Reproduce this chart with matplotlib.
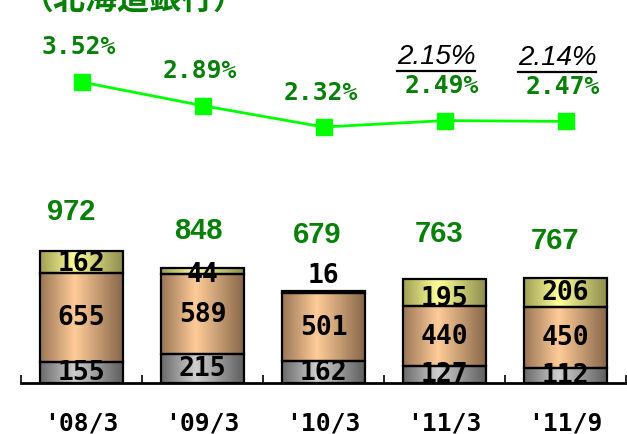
import matplotlib
matplotlib.use('Agg')
import matplotlib.pyplot as plt
import numpy as np
from matplotlib.colors import LinearSegmentedColormap
from matplotlib.lines import Line2D

# ---------------- data ----------------
categories = ["'08/3", "'09/3", "'10/3", "'11/3", "'11/9"]
bottom_vals = [155, 215, 162, 127, 112]
middle_vals = [655, 589, 501, 440, 450]
top_vals = [162, 44, 16, 195, 206]
totals = [972, 848, 679, 763, 767]
ratios = [3.52, 2.89, 2.32, 2.49, 2.47]
ratio_labels = ["3.52%", "2.89%", "2.32%", "2.49%", "2.47%"]
alt_ratio_labels = [None, None, None, "2.15%", "2.14%"]
title = "（北海道銀行）"

# ---------------- layout / style ----------------
W, H, DPI = 627, 435, 100
GREEN_TXT = '#078007'
LINE_GREEN = '#00ff00'
MONO = 'DejaVu Sans Mono'
# label offsets in pixels (dx, dy-up) for total labels
total_offsets = [(-10, 40), (-4, 38), (-6, 57), (-5, 46), (-10, 38)]
top_label_shift = [1.5, 3, 0, 5, 0]  # px downward

fig = plt.figure(figsize=(W / DPI, H / DPI), dpi=DPI)
ax_left, ax_right = 21 / W, 626 / W
base_px = 384
ax = fig.add_axes([ax_left, (H - base_px) / H, ax_right - ax_left, base_px / H])
px_per_unit = 0.1361
ax.set_xlim(-0.5, len(categories) - 0.5)
ax.set_ylim(0, base_px / px_per_unit)

x = np.arange(len(categories))
bw = 0.68

grads = {
    'bottom': ['#6a6a6a', '#cfcfcf', '#5e5e5e'],
    'middle': ['#9a7656', '#ffcc99', '#87674a'],
    'top': ['#9f9f55', '#ffff99', '#8d8d4e'],
}

def grad_bars(vals, bottoms, key):
    bars = ax.bar(x, vals, bw, bottom=bottoms, facecolor='none',
                  edgecolor='black', linewidth=1.6, zorder=3)
    cmap = LinearSegmentedColormap.from_list(key, list(zip([0, 0.42, 1], grads[key])))
    g = np.linspace(0, 1, 256).reshape(1, -1)
    for r in bars:
        x0, y0 = r.get_x(), r.get_y()
        im = ax.imshow(g, cmap=cmap, aspect='auto', interpolation='bilinear',
                       extent=[x0, x0 + r.get_width(), y0, y0 + r.get_height()],
                       zorder=2)
        im.set_clip_path(r)
    return bars

b0 = np.zeros(len(x))
grad_bars(bottom_vals, b0, 'bottom')
b1 = np.array(bottom_vals, dtype=float)
grad_bars(middle_vals, b1, 'middle')
b2 = b1 + np.array(middle_vals)
grad_bars(top_vals, b2, 'top')
ax.set_xlim(-0.5, len(categories) - 0.5)
ax.set_ylim(0, base_px / px_per_unit)

seg_fs = 19
for i in range(len(x)):
    ax.text(x[i], bottom_vals[i] / 2, str(bottom_vals[i]), ha='center', va='center',
            fontsize=seg_fs, family=MONO, fontweight='bold', zorder=4, clip_on=True)
    ax.text(x[i], b1[i] + middle_vals[i] / 2, str(middle_vals[i]), ha='center', va='center',
            fontsize=seg_fs, family=MONO, fontweight='bold', zorder=4, clip_on=True)
    if top_vals[i] >= 40:
        ax.annotate(str(top_vals[i]), (x[i], b2[i] + top_vals[i] / 2),
                    xytext=(0, -top_label_shift[i]), textcoords='offset pixels',
                    ha='center', va='center', fontsize=seg_fs, family=MONO,
                    fontweight='bold', zorder=4)
    else:
        ax.annotate(str(top_vals[i]), (x[i], b2[i] + top_vals[i]),
                    xytext=(0, 16), textcoords='offset pixels',
                    ha='center', va='center', fontsize=seg_fs, family=MONO,
                    fontweight='bold', zorder=4)
    dx, dy = total_offsets[i]
    ax.annotate(str(totals[i]), (x[i], b2[i] + top_vals[i]), xytext=(dx, dy),
                textcoords='offset pixels', ha='center', va='center',
                fontsize=21, family='Liberation Sans', fontweight='bold',
                color=GREEN_TXT, zorder=4)

for s in ['top', 'right', 'left']:
    ax.spines[s].set_visible(False)
ax.spines['bottom'].set_linewidth(2)
ax.spines['bottom'].set_zorder(5)
ax.set_yticks([])
ax.set_xticks(np.arange(-0.5, len(categories)), labels=[''] * (len(categories) + 1))
ax.tick_params(axis='x', which='major', direction='in', length=6, width=1.2)
ax.set_xticks(x, labels=categories, minor=True)
ax.tick_params(axis='x', which='minor', length=0, pad=20)
for lab in ax.get_xticklabels(minor=True):
    lab.set_family(MONO)
    lab.set_fontweight('bold')
    lab.set_fontsize(17.7)
ax.patch.set_visible(False)

# ---------------- line axis ----------------
ax2 = ax.twinx()
lp = 37.5
top_val = 3.52 + 83 / lp
ax2.set_ylim(top_val - base_px / lp, top_val)
ax2.plot(x, ratios, color=LINE_GREEN, lw=2, marker='s', ms=11,
         mec=LINE_GREEN, mfc=LINE_GREEN, zorder=5)
for s in ax2.spines.values():
    s.set_visible(False)
ax2.set_yticks([])
for i in range(len(x)):
    ax2.annotate(ratio_labels[i], (x[i], ratios[i]), xytext=(-2.5, 35.5),
                 textcoords='offset pixels', ha='center', va='center',
                 fontsize=17.7, family=MONO, fontweight='bold', color=GREEN_TXT)

alt_texts = []
for i in range(len(x)):
    if alt_ratio_labels[i]:
        t = ax2.annotate(alt_ratio_labels[i], (x[i], ratios[i]), xytext=(-8.5, 64.5),
                         textcoords='offset pixels', ha='center', va='center',
                         fontsize=20, family='Liberation Sans', style='italic',
                         color='black')
        alt_texts.append(t)

fig.text(22 / W, (H - 9) / H, title, ha='left', va='baseline', fontsize=23,
         family=['Noto Sans CJK JP', 'DejaVu Sans'], fontweight='bold', color=GREEN_TXT)

fig.canvas.draw()
r = fig.canvas.get_renderer()
for t in alt_texts:
    bb = t.get_window_extent(r)
    yline = bb.y0 - 2
    fig.add_artist(Line2D([bb.x0 / W, bb.x1 / W], [yline / H, yline / H],
                          transform=fig.transFigure, color='black', lw=1.6))

fig.savefig('out.png', dpi=DPI)
